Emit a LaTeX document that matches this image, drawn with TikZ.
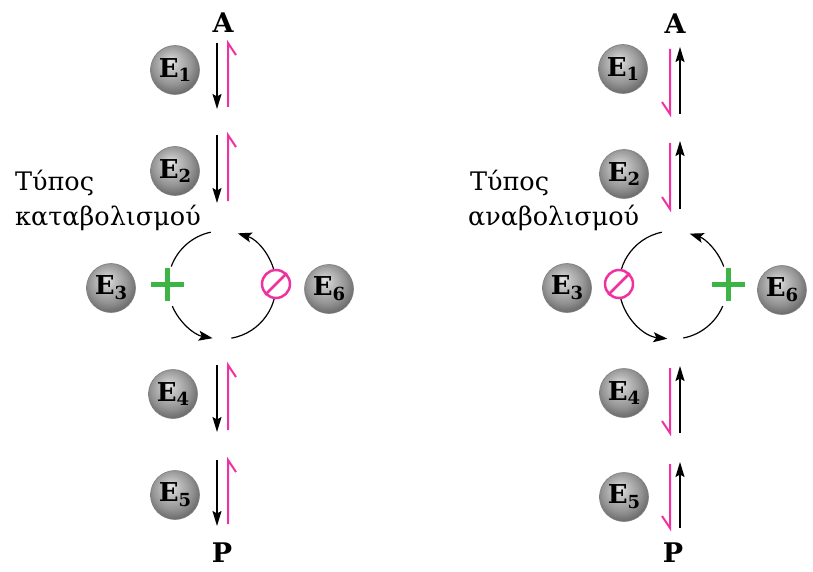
\documentclass[tikz,border=0pt]{standalone}
\usepackage{fontspec}
\setmainfont{DejaVu Serif}
\usetikzlibrary{arrows.meta}
\definecolor{mag}{RGB}{240,50,160}
\definecolor{grn}{RGB}{60,180,70}
\pgfdeclareradialshading{sphere}{\pgfpoint{-5bp}{9bp}}{color(0bp)=(black!10); color(8bp)=(black!25); color(20bp)=(black!42); color(28bp)=(black!57); color(36bp)=(black!64); color(50bp)=(black!66)}
\newcommand{\enz}[1]{E\raisebox{-0.35ex}{\fontsize{18}{18}\selectfont #1}}
\tikzset{
  enzyme/.style={circle, minimum size=49pt, inner sep=0pt, shading=sphere, draw=black!50, line width=0.6pt, font=\bfseries\fontsize{26}{26}\selectfont},
  metab/.style={font=\bfseries\fontsize{27}{27}\selectfont, inner sep=0pt},
  typelabel/.style={font=\fontsize{25.5}{25.5}\selectfont, inner sep=0pt, anchor=base west},
  fwd/.style={line width=1.5pt, -{Stealth[length=15pt,width=9pt,inset=2.5pt]}},
  rev/.style={mag, line width=2pt},
  cyc/.style={line width=1.2pt},
  cyctip/.style={cyc, -{Stealth[length=14pt,width=10pt,inset=3pt]}},
  act/.style={grn, line width=5pt},
  inh/.style={circle, draw=mag, fill=white, line width=2.5pt, minimum size=28pt, inner sep=0pt}
}
\begin{document}
\begin{tikzpicture}[x=1pt,y=1pt]
\useasboundingbox (0,0) rectangle (813,-572);
% ---------------- left: catabolic ----------------
\node[metab] (A1) at (223,-23) {A};
\node[metab] (P1) at (222,-553) {P};
\node[enzyme] (L1) at (175,-70) {\enz{1}};
\node[enzyme] (L2) at (175,-171) {\enz{2}};
\node[enzyme] (L3) at (111,-288) {\enz{3}};
\node[enzyme] (L6) at (329,-289) {\enz{6}};
\node[enzyme] (L4) at (173,-394) {\enz{4}};
\node[enzyme] (L5) at (175,-495) {\enz{5}};
\foreach \i/\t/\b in {1/43/109, 2/135/203, 3/365/432, 4/460/526} {
  \coordinate (Lt\i) at (217,-\t); \coordinate (Lb\i) at (217,-\b);
  \draw[fwd] (Lt\i) -- (Lb\i);
  \coordinate (Mt\i) at (228,-\t); \coordinate (Mb\i) at (228,-\b+2);
  \draw[rev] (Mb\i) -- (Mt\i) -- ++(8,-12);
}
\node[typelabel] (T1a) at (15,-190) {Τύπος};
\node[typelabel] (T1b) at (15,-225) {καταβολισμού};
\coordinate (C1) at (222,-285);
\draw[cyc] (C1) ++(102:54) arc[start angle=102, end angle=160, radius=54];
\draw[cyctip] (C1) ++(203:54) arc[start angle=203, end angle=260, radius=54];
\draw[cyctip] (C1) ++(280:54) arc[start angle=280, end angle=433, radius=54];
\node[inh] (I1) at (276,-284) {};
\draw[mag, line width=2.5pt] (I1.225) -- (I1.45);
\coordinate (G1) at (167,-284);
\draw[act] (G1) ++(-16.5,0) -- ++(33,0);
\draw[act] (G1) ++(0,-16.5) -- ++(0,33);
% ---------------- right: anabolic ----------------
\node[metab] (A2) at (675,-24) {A};
\node[metab] (P2) at (673,-553) {P};
\node[enzyme] (R1) at (623,-69) {\enz{1}};
\node[enzyme] (R2) at (624,-174) {\enz{2}};
\node[enzyme] (R3) at (567,-288) {\enz{3}};
\node[enzyme] (R6) at (782,-290) {\enz{6}};
\node[enzyme] (R4) at (624,-393) {\enz{4}};
\node[enzyme] (R5) at (624,-497) {\enz{5}};
\foreach \i/\t/\b in {1/47/114, 2/141/209, 3/366/433, 4/462/528} {
  \coordinate (Rt\i) at (680,-\t); \coordinate (Rb\i) at (680,-\b);
  \draw[fwd] (Rb\i) -- (Rt\i);
  \coordinate (Nt\i) at (670,-\t-2); \coordinate (Nb\i) at (670,-\b);
  \draw[rev] (Nt\i) -- (Nb\i) -- ++(-8,12);
}
\node[typelabel] (T2a) at (470,-190) {Τύπος};
\node[typelabel] (T2b) at (468,-225) {αναβολισμού};
\coordinate (C2) at (673,-285);
\draw[cyctip] (C2) ++(102:54) arc[start angle=102, end angle=264, radius=54];
\draw[cyc] (C2) ++(281:54) arc[start angle=281, end angle=337, radius=54];
\draw[cyctip] (C2) ++(20:54) arc[start angle=20, end angle=72, radius=54];
\node[inh] (I2) at (619,-284) {};
\draw[mag, line width=2.5pt] (I2.225) -- (I2.45);
\coordinate (G2) at (728,-284);
\draw[act] (G2) ++(-16.5,0) -- ++(33,0);
\draw[act] (G2) ++(0,-16.5) -- ++(0,33);
\end{tikzpicture}
\end{document}
